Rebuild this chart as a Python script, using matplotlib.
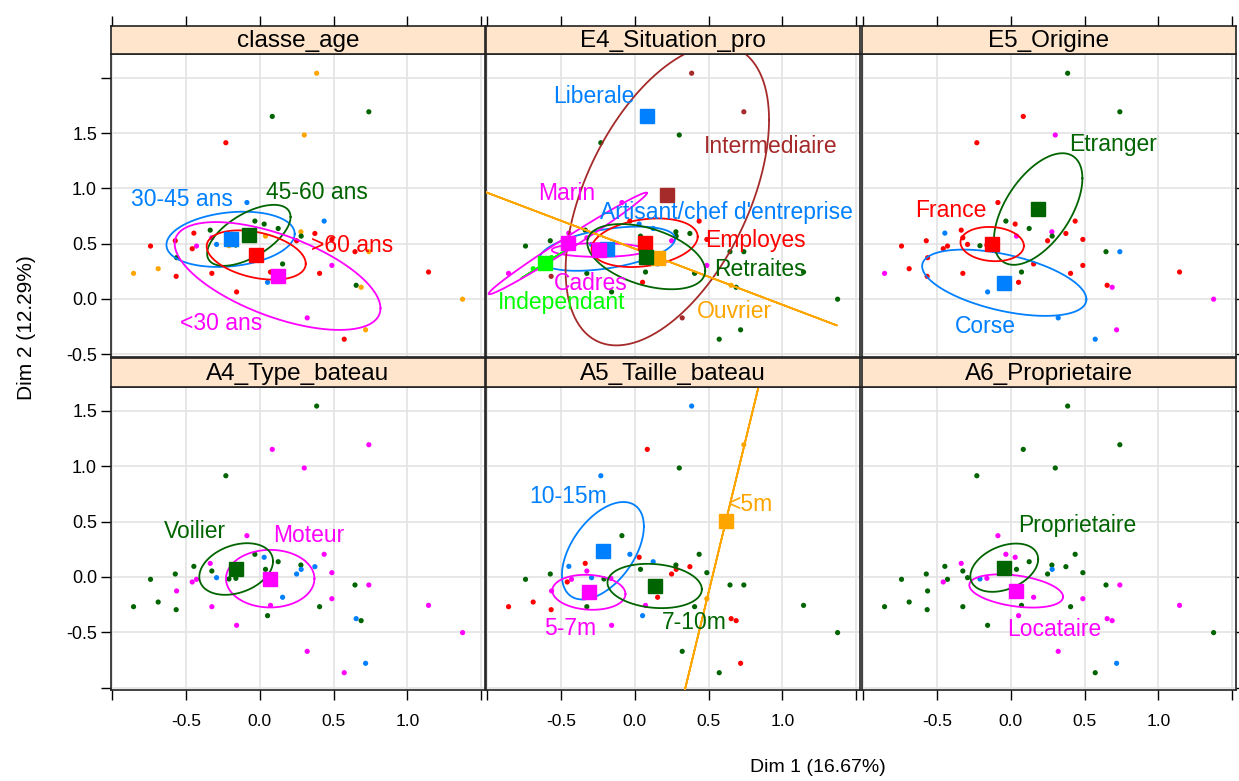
import numpy as np
import matplotlib
matplotlib.use("Agg")
import matplotlib.pyplot as plt

plt.rcParams['font.family'] = ['Liberation Sans', 'DejaVu Sans']

# ---------------- data ----------------
PALETTE = {'b': '#0080FF', 'm': '#FF00FF', 'g': '#006400', 'r': '#FF0000',
           'o': '#FFA500', 'l': '#00FF00', 'n': '#A52A2A'}

# individuals (Dim 1, Dim 2) as read on the bottom row axes
ind_x = [0.385, 0.084, 0.739, 0.301, -0.231, -0.088, 0.436, -0.034, 0.029, 0.124,
         0.278, 0.373, -0.337, -0.448, -0.326, 0.038, 0.280, 0.249, -0.574, -0.742,
         -0.294, -0.430, -0.459, -0.210, -0.163, 0.488, -0.565, 0.645, 0.739, 0.154,
         0.488, 0.072, -0.326, -0.690, -0.857, -0.568, 0.405, 1.144, 0.052, 0.653,
         0.687, -0.158, 1.375, 0.321, 0.717, 0.572]
ind_y = [1.543, 1.152, 1.194, 0.984, 0.914, 0.373, 0.205, 0.205, 0.178, 0.138,
         0.108, 0.093, 0.123, 0.096, 0.054, 0.069, 0.069, 0.027, 0.027, -0.021,
         -0.006, -0.021, -0.045, -0.018, -0.012, 0.039, -0.126, -0.072, -0.072, -0.183,
         -0.196, -0.256, -0.268, -0.226, -0.268, -0.295, -0.268, -0.256, -0.349, -0.376,
         -0.394, -0.436, -0.502, -0.671, -0.779, -0.864]
TOP_ROW_SHIFT = 0.5   # top row axis is labelled 0.5 higher

panel_titles = ["classe_age", "E4_Situation_pro", "E5_Origine",
                "A4_Type_bateau", "A5_Taille_bateau", "A6_Proprietaire"]

# colour code of each individual in each panel
ind_colors = {
    "classe_age":       "oggorbbggg" "orgrmogrrr" "bmrogrgrog" "mrroorrrbg" "oromor",
    "E4_Situation_pro": "nbnggmrrbb" "gggmmggmgg" "bmmbbrlggb" "mgglmnggro" "gggngg",
    "E5_Origine":       "grgmrrrgrg" "mrrbrmgrrr" "rrrgrrrgbr" "rgrrmrrrrr" "mbmbmb",
    "A4_Type_bateau":   "gmmmgmmgbg" "gbmgggbbgg" "bmmggmmgmb" "mmmggggmgb" "gmmmbm",
    "A5_Taille_bateau": "brogbggbrb" "grrbmgrrgg" "bmrgmgmggr" "omgrrrggbr" "rmggrg",
    "A6_Proprietaire":  "gggggmgmmg" "ggmgggbggg" "ggmbmgggmm" "mggggggmmm" "mggmbg",
}

# categories: name, colour, centroid x, centroid y
cat_names = {
    "classe_age": ["30-45 ans", "45-60 ans", ">60 ans", "<30 ans"],
    "E4_Situation_pro": ["Artisant/chef d'entreprise", "Cadres", "Employes", "Independant",
                         "Intermediaire", "Liberale", "Marin", "Ouvrier", "Retraites"],
    "E5_Origine": ["Corse", "Etranger", "France"],
    "A4_Type_bateau": ["Moteur", "Voilier"],
    "A5_Taille_bateau": ["10-15m", "5-7m", "7-10m", "<5m"],
    "A6_Proprietaire": ["Locataire", "Proprietaire"],
}
cat_cols = {
    "classe_age": "bgrm",
    "E4_Situation_pro": "bmrlnbmog",
    "E5_Origine": "bgr",
    "A4_Type_bateau": "mg",
    "A5_Taille_bateau": "bmgo",
    "A6_Proprietaire": "mg",
}
cat_x = {
    "classe_age": [-0.199, -0.075, -0.025, 0.120],
    "E4_Situation_pro": [-0.187, -0.244, 0.066, -0.610, 0.220, 0.084, -0.455, 0.159, 0.077],
    "E5_Origine": [-0.045, 0.185, -0.127],
    "A4_Type_bateau": [0.070, -0.161],
    "A5_Taille_bateau": [-0.217, -0.312, 0.134, 0.617],
    "A6_Proprietaire": [0.036, -0.045],
}
cat_y = {
    "classe_age": [0.540, 0.576, 0.398, 0.208],
    "E4_Situation_pro": [0.455, 0.443, 0.509, 0.323, 0.940, 1.655, 0.503, 0.374, 0.383],
    "E5_Origine": [0.147, 0.814, 0.497],
    "A4_Type_bateau": [-0.015, 0.072],
    "A5_Taille_bateau": [0.237, -0.138, -0.081, 0.503],
    "A6_Proprietaire": [-0.126, 0.084],
}
# confidence ellipse half-ranges (x, y) and correlation; None = no ellipse
ell_rx = {
    "classe_age": [0.435, 0.283, 0.336, 0.698],
    "E4_Situation_pro": [0.46, 0.32, 0.36, 0.16, 0.69, None, 0.537, 1.209, 0.40],
    "E5_Origine": [0.557, 0.30, 0.215],
    "A4_Type_bateau": [0.30, 0.25],
    "A5_Taille_bateau": [0.278, 0.248, 0.32, 0.40],
    "A6_Proprietaire": [0.318, 0.23],
}
ell_ry = {
    "classe_age": [0.25, 0.276, 0.223, 0.488],
    "E4_Situation_pro": [0.20, 0.062, 0.22, 0.135, 1.36, None, 0.46, 0.612, 0.295],
    "E5_Origine": [0.30, 0.505, 0.155],
    "A4_Type_bateau": [0.26, 0.233],
    "A5_Taille_bateau": [0.44, 0.158, 0.20, 2.19],
    "A6_Proprietaire": [0.15, 0.218],
}
ell_rho = {
    "classe_age": [0.2, 0.6, -0.35, -0.6],
    "E4_Situation_pro": [0.45, 0.0, 0.25, 1.0, 0.5, None, 0.99, -1.0, -0.43],
    "E5_Origine": [-0.5, 0.55, -0.1],
    "A4_Type_bateau": [0.0, 0.3],
    "A5_Taille_bateau": [0.5, -0.1, -0.15, 1.0],
    "A6_Proprietaire": [-0.35, 0.35],
}
# label anchor positions (text centre)
lab_x = {
    "classe_age": [-0.53, 0.385, 0.626, -0.26],
    "E4_Situation_pro": [0.622, -0.30, 0.819, -0.497, 0.92, -0.278, -0.463, 0.676, 0.848],
    "E5_Origine": [-0.176, 0.69, -0.41],
    "A4_Type_bateau": [0.332, -0.441],
    "A5_Taille_bateau": [-0.454, -0.436, 0.40, 0.785],
    "A6_Proprietaire": [0.294, 0.448],
}
lab_y = {
    "classe_age": [0.90, 0.965, 0.488, -0.22],
    "E4_Situation_pro": [0.784, 0.142, 0.533, -0.03, 1.377, 1.83, 0.955, -0.115, 0.268],
    "E5_Origine": [-0.25, 1.40, 0.805],
    "A4_Type_bateau": [0.373, 0.409],
    "A5_Taille_bateau": [0.725, -0.463, -0.412, 0.65],
    "A6_Proprietaire": [-0.478, 0.463],
}

x_ticks = [-1.0, -0.5, 0.0, 0.5, 1.0, 1.5]
x_ticklabels = ["", "-0.5", "0.0", "0.5", "1.0", ""]
y_ticks_top = [-0.5, 0.0, 0.5, 1.0, 1.5, 2.0]
y_ticklabels_top = ["-0.5", "0.0", "0.5", "1.0", "1.5", ""]
y_ticks_bot = [-1.0, -0.5, 0.0, 0.5, 1.0, 1.5]
y_ticklabels_bot = ["", "-0.5", "0.0", "0.5", "1.0", "1.5"]

XLIM = (-1.01, 1.527)
YLIM_TOP = (-0.525, 2.217)
YLIM_BOT = (-1.02, 1.715)

# ---------------- figure ----------------
W, H = 1239, 781
fig = plt.figure(figsize=(W / 100, H / 100), dpi=100)

col_left = [111, 486, 862]
col_w = 374
rows = [  # (plot top, plot bottom, strip top)
    (54, 357, 26),
    (387, 690, 358),
]

def fx(px):
    return px / W

def fy(py):
    return 1 - py / H

t = np.linspace(0, 2 * np.pi, 400)

for idx, title in enumerate(panel_titles):
    r, c = divmod(idx, 3)
    ptop, pbot, stop = rows[r]
    left = col_left[c]
    ax = fig.add_axes([fx(left), fy(pbot), col_w / W, (pbot - ptop) / H])
    sax = fig.add_axes([fx(left), fy(ptop), col_w / W, (ptop - stop) / H])

    ax.set_xlim(*XLIM)
    ylim = YLIM_TOP if r == 0 else YLIM_BOT
    ax.set_ylim(*ylim)
    yticks = y_ticks_top if r == 0 else y_ticks_bot
    ylabs = y_ticklabels_top if r == 0 else y_ticklabels_bot

    # grid
    for xv in x_ticks:
        ax.axvline(xv, color='#E3E3E3', lw=1.2, zorder=0)
    for yv in yticks:
        ax.axhline(yv, color='#E3E3E3', lw=1.2, zorder=0)

    shift = TOP_ROW_SHIFT if r == 0 else 0.0
    cols = [PALETTE[k] for k in ind_colors[title]]
    ax.scatter(ind_x, np.array(ind_y) + shift, s=14, c=cols, linewidths=0, zorder=2)

    names = cat_names[title]
    for k, name in enumerate(names):
        col = PALETTE[cat_cols[title][k]]
        cx, cy = cat_x[title][k], cat_y[title][k]
        rx, ry, rho = ell_rx[title][k], ell_ry[title][k], ell_rho[title][k]
        if rx is not None:
            phi = np.arccos(np.clip(rho, -1, 1))
            ex = cx + rx * np.cos(t)
            ey = cy + ry * np.cos(t - phi)
            ax.plot(ex, ey, color=col, lw=1.3, zorder=3)
    for k, name in enumerate(names):
        col = PALETTE[cat_cols[title][k]]
        ax.plot(cat_x[title][k], cat_y[title][k], marker='s', ms=9.5, color=col,
                mec=col, ls='none', zorder=4)
    for k, name in enumerate(names):
        col = PALETTE[cat_cols[title][k]]
        ax.text(lab_x[title][k], lab_y[title][k], name, color=col, fontsize=16.5,
                ha='center', va='center', zorder=5)

    # ticks
    ax.set_xticks(x_ticks)
    ax.set_yticks(yticks)
    if r == 1:
        ax.set_xticklabels(x_ticklabels, fontsize=12.5)
        ax.tick_params(axis='x', direction='out', length=7, width=1, pad=10)
    else:
        ax.tick_params(axis='x', bottom=False, labelbottom=False)
    if c == 0:
        ax.set_yticklabels(ylabs, fontsize=13)
        ax.tick_params(axis='y', direction='out', length=7, width=1, pad=3)
    elif c == 2:
        ax.tick_params(axis='y', left=False, labelleft=False, right=True,
                       direction='out', length=2.5, width=1)
    else:
        ax.tick_params(axis='y', left=False, labelleft=False)
    for sp in ax.spines.values():
        sp.set_color('#222222')
        sp.set_linewidth(1.2)

    # strip
    sax.set_facecolor('#FFE5CC')
    sax.set_xlim(*XLIM)
    sax.set_ylim(0, 1)
    sax.set_yticks([])
    if r == 0:
        sax.set_xticks(x_ticks)
        sax.tick_params(axis='x', bottom=False, labelbottom=False, top=True,
                        labeltop=False, direction='out', length=7, width=1)
    else:
        sax.set_xticks([])
    for sp in sax.spines.values():
        sp.set_color('#222222')
        sp.set_linewidth(1.2)
    sax.text(0.5, 0.45, title, transform=sax.transAxes, ha='center', va='center',
             fontsize=17.5, color='black')

fig.text(fx(818), fy(768), "Dim 1 (16.67%)", ha='center', va='center', fontsize=14)
fig.text(fx(27), fy(328), "Dim 2 (12.29%)", ha='center', va='center', fontsize=15,
         rotation=90)

fig.savefig("out.png", dpi=100)
